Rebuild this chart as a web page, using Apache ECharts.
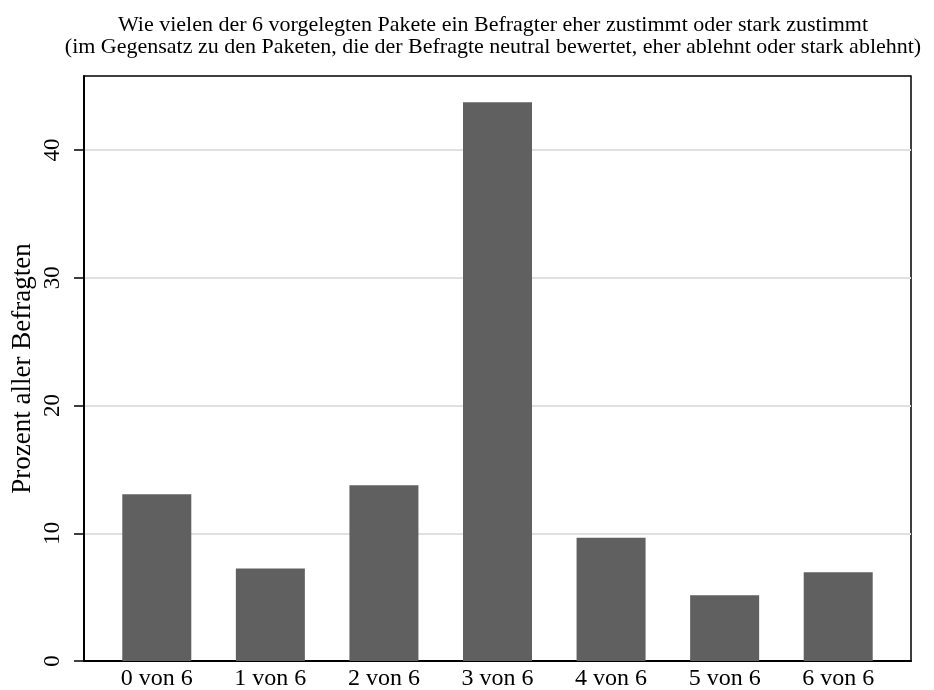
<!DOCTYPE html>
<html>
<head>
<meta charset="utf-8">
<script src="https://cdn.jsdelivr.net/npm/echarts@6/dist/echarts.min.js"></script>
<style>
  html, body { margin: 0; padding: 0; background: #fff; }
  #main { width: 934px; height: 690px; }
</style>
</head>
<body>
<div id="main"></div>
<script>
var categories = ['0 von 6', '1 von 6', '2 von 6', '3 von 6', '4 von 6', '5 von 6', '6 von 6'];
var percent = [13.05, 7.25, 13.75, 43.75, 9.65, 5.15, 6.95];
var yTicks = [0, 10, 20, 30, 40];

var serif = '"Liberation Serif", "DejaVu Serif", serif';
var yMax = 45.8;

var myChart = echarts.init(document.getElementById('main'));
var option = {
    animation: false,
    backgroundColor: '#fff',
    title: {
        text: 'Wie vielen der 6 vorgelegten Pakete ein Befragter eher zustimmt oder stark zustimmt\n(im Gegensatz zu den Paketen, die der Befragte neutral bewertet, eher ablehnt oder stark ablehnt)',
        left: 488,
        top: 9,
        textAlign: 'center',
        textStyle: {
            fontFamily: serif,
            fontWeight: 'normal',
            fontSize: 22,
            lineHeight: 22,
            color: '#000'
        }
    },
    grid: [
        // bars
        { left: 100, width: 795, top: 76, bottom: 29, outerBoundsMode: 'none' },
        // frame + y axis
        { left: 84, right: 23, top: 76, bottom: 29, outerBoundsMode: 'none',
          show: true, borderColor: '#000', borderWidth: 1.5 }
    ],
    xAxis: [
        {
            type: 'category',
            gridIndex: 0,
            data: categories,
            axisLine: { show: false },
            axisTick: { show: false },
            axisLabel: { margin: 6, fontFamily: serif, fontSize: 24, color: '#000' }
        },
        {
            type: 'value',
            gridIndex: 1,
            min: 0, max: 1,
            axisLine: { show: true, onZero: false, lineStyle: { color: '#000', width: 2 } },
            axisTick: { show: false },
            axisLabel: { show: false },
            splitLine: { show: false }
        }
    ],
    yAxis: [
        {
            type: 'value',
            gridIndex: 0,
            min: 0, max: yMax,
            show: false
        },
        {
            type: 'value',
            gridIndex: 1,
            min: 0, max: yMax,
            interval: 10,
            name: 'Prozent aller Befragten',
            nameLocation: 'middle',
            nameGap: 48,
            nameMoveOverlap: false,
            nameTextStyle: { fontFamily: serif, fontSize: 27, color: '#000' },
            axisLine: { show: true, lineStyle: { color: '#000', width: 2 } },
            axisTick: { show: true, length: 10, customValues: yTicks, lineStyle: { color: '#000', width: 1.5 } },
            axisLabel: {
                rotate: 90,
                margin: 20,
                customValues: yTicks,
                fontFamily: serif, fontSize: 23, color: '#000'
            },
            splitLine: { show: true, lineStyle: { color: '#e0e0e0', width: 2 } }
        }
    ],
    series: [{
        type: 'bar',
        xAxisIndex: 0,
        yAxisIndex: 0,
        data: percent,
        barWidth: 69,
        itemStyle: { color: '#606060', borderWidth: 0 },
        z: 3
    }]
};
myChart.setOption(option);
</script>
</body>
</html>
